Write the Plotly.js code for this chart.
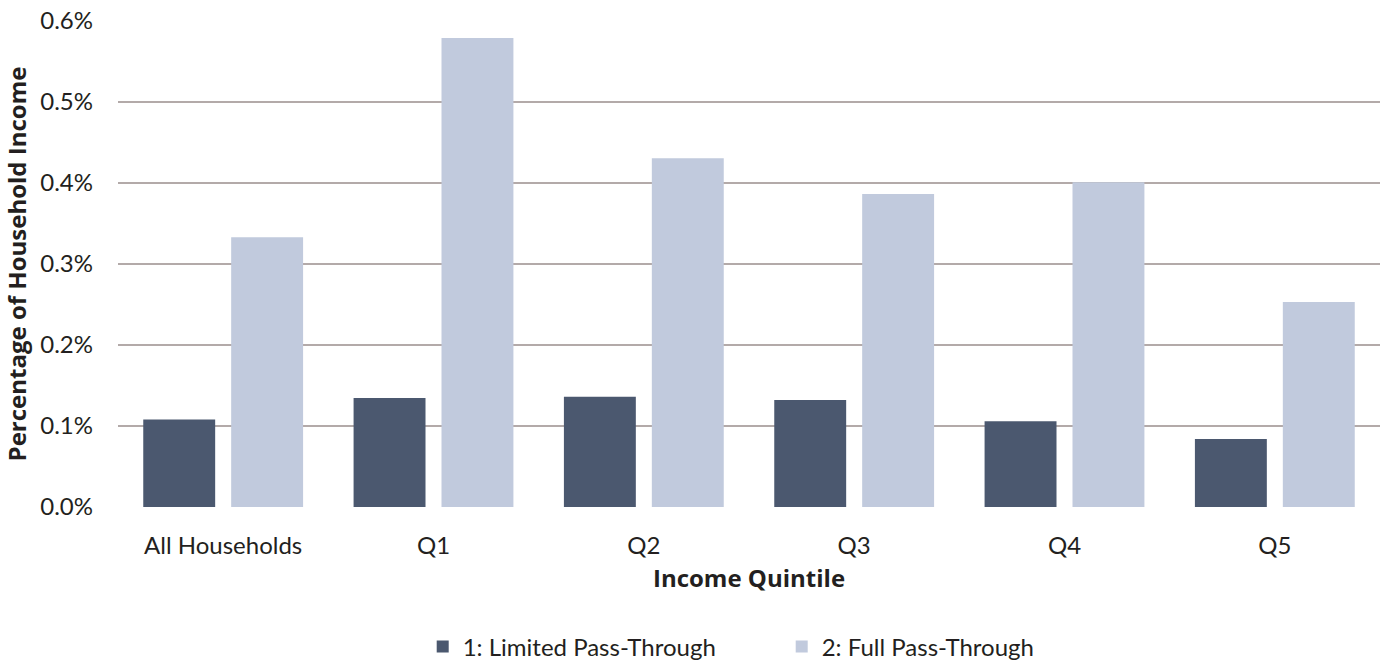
<!DOCTYPE html>
<html>
<head>
<meta charset="utf-8">
<script src="https://cdn.plot.ly/plotly-3.0.1.min.js"></script>
<style>html,body{margin:0;padding:0;background:#fff;}#chart{width:1386px;height:662px;}</style>
</head>
<body>
<div id="chart"></div>
<script>
const categories = ["All Households", "Q1", "Q2", "Q3", "Q4", "Q5"];
const limitedPassThrough = [0.108, 0.1345, 0.136, 0.132, 0.106, 0.084];
const fullPassThrough = [0.333, 0.579, 0.4305, 0.3865, 0.401, 0.253];
const seriesNames = ["1: Limited Pass-Through", "2: Full Pass-Through"];
const yTicks = [0, 0.1, 0.2, 0.3, 0.4, 0.5, 0.6];

const font = "Lato, 'Open Sans', sans-serif";
const titleFont = "'Open Sans', Lato, sans-serif";
const textColor = "#231f20";
const data = [
  {type: "bar", x: categories, y: limitedPassThrough, name: seriesNames[0],
   marker: {color: "#4b586f"}, hoverinfo: "x+y"},
  {type: "bar", x: categories, y: fullPassThrough, name: seriesNames[1],
   marker: {color: "#c1cadd"}, hoverinfo: "x+y"}
];
const layout = {
  width: 1386, height: 662,
  margin: {l: 118, r: 6, t: 21, b: 155, autoexpand: false},
  paper_bgcolor: "#fff", plot_bgcolor: "#fff",
  font: {family: font, size: 24, color: textColor},
  barmode: "group", bargap: 0.164, bargroupgap: 0.182,
  xaxis: {
    type: "category", showgrid: false, zeroline: false, showline: false,
    ticks: "", ticklabelstandoff: 22, automargin: false,
    tickfont: {family: font, size: 24, color: textColor},
    title: {text: "<b>Income Quintile</b>", font: {family: titleFont, size: 24, color: textColor}, standoff: 12}
  },
  yaxis: {
    range: [0, 0.6], tickvals: yTicks, ticktext: yTicks.map(v => v.toFixed(1) + "%"),
    showgrid: true, gridcolor: "#b3aaa9", gridwidth: 2, zeroline: false, showline: false,
    ticks: "", ticklabelstandoff: 24, automargin: false,
    tickfont: {family: font, size: 24, color: textColor},
    title: {text: "<b>Percentage of Household Income</b>", font: {family: titleFont, size: 24, color: textColor}, standoff: 9}
  },
  showlegend: true,
  legend: {orientation: "h", xref: "container", x: 0.564, xanchor: "center",
    y: -0.288, yanchor: "middle", font: {family: font, size: 24, color: textColor},
    entrywidth: 314, entrywidthmode: "pixels", tracegroupgap: 0}
};
Plotly.newPlot("chart", data, layout, {displayModeBar: false, staticPlot: true});
</script>
</body>
</html>
